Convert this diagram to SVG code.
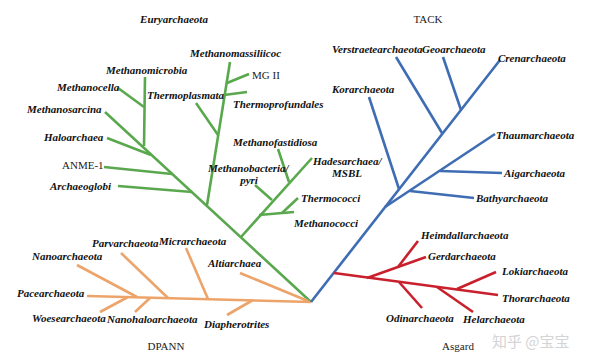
<svg xmlns="http://www.w3.org/2000/svg" width="600" height="364" viewBox="0 0 600 364">
<style>
.t{font-family:"Liberation Serif","Times New Roman",serif;font-size:11px;font-style:italic;font-weight:bold;fill:#111}
.r{font-family:"Liberation Serif","Times New Roman",serif;font-size:11px;fill:#222}
.c{stroke-width:2.6;fill:none;stroke-linecap:butt}
.g{stroke:#5aa84e}
.o{stroke:#eda46a}
.b{stroke:#3f6db3}
.d{stroke:#c8202c}
.w{font-family:"Noto Sans CJK SC","Noto Sans",sans-serif;font-size:15px;fill:#d4d4d4}
</style>
<rect width="600" height="364" fill="#fff"/>
<g id="connectors">
<g class="c g">
<path d="M311,302 L105,112"/>
<path d="M144,146 L145,77"/>
<path d="M118,88 L144,107"/>
<path d="M107,138 L151,155"/>
<path d="M104,167 L172,174"/>
<path d="M118,186 L192,192"/>
<path d="M207,205 L230,62"/>
<path d="M227,83 L249,74"/>
<path d="M224,95 L247,92"/>
<path d="M196,103 L218,135"/>
<path d="M241,237 L312,158"/>
<path d="M278,149 L289,182"/>
<path d="M255,185 L272,200"/>
<path d="M259,215 L294,212"/>
<path d="M282,213 L298,198"/>
</g>
<g class="c o">
<path d="M311,302 L87,296"/>
<path d="M77,265 L137,297"/>
<path d="M121,253 L168,298"/>
<path d="M186,248 L208,299"/>
<path d="M240,273 L308,301"/>
<path d="M100,312 L128,297"/>
<path d="M135,312 L150,298"/>
<path d="M227,315 L253,300"/>
</g>
<g class="c b">
<path d="M311,302 L500,60"/>
<path d="M369,97 L399,189"/>
<path d="M396,57 L442,133"/>
<path d="M443,57 L461,110"/>
<path d="M385,207 L495,134"/>
<path d="M440,171 L502,173"/>
<path d="M410,191 L474,198"/>
</g>
<g class="c d">
<path d="M334,273 L498,295"/>
<path d="M367,278 L426,257"/>
<path d="M398,267 L418,241"/>
<path d="M399,282 L422,308"/>
<path d="M437,287 L473,312"/>
<path d="M457,289 L496,272"/>
</g>
</g>
<g id="n-euryarchaeota"><text class="t" x="174" y="23" text-anchor="middle">Euryarchaeota</text></g>
<g id="n-tack"><text class="r" x="428" y="23" text-anchor="middle">TACK</text></g>
<g id="n-dpann"><text class="r" x="166" y="350" text-anchor="middle">DPANN</text></g>
<g id="n-asgard"><text class="r" x="458" y="350" text-anchor="middle">Asgard</text></g>
<g id="n-methanomassiliicoc"><text class="t" x="190" y="57">Methanomassiliicoc</text></g>
<g id="n-methanomicrobia"><text class="t" x="106" y="74">Methanomicrobia</text></g>
<g id="n-mg2"><text class="r" x="252" y="79">MG II</text></g>
<g id="n-methanocella"><text class="t" x="57" y="91">Methanocella</text></g>
<g id="n-thermoplasmata"><text class="t" x="147" y="99">Thermoplasmata</text></g>
<g id="n-thermoprofundales"><text class="t" x="233" y="108">Thermoprofundales</text></g>
<g id="n-methanosarcina"><text class="t" x="27" y="113">Methanosarcina</text></g>
<g id="n-haloarchaea"><text class="t" x="44" y="141">Haloarchaea</text></g>
<g id="n-anme1"><text class="r" x="62" y="169">ANME-1</text></g>
<g id="n-archaeoglobi"><text class="t" x="50" y="190">Archaeoglobi</text></g>
<g id="n-methanofastidiosa"><text class="t" x="233" y="146">Methanofastidiosa</text></g>
<g id="n-methanobacteria"><text class="t" x="208" y="172">Methanobacteria/</text><text class="t" x="249" y="184" text-anchor="middle">pyri</text></g>
<g id="n-hadesarchaea"><text class="t" x="313" y="165">Hadesarchaea/</text><text class="t" x="347" y="177" text-anchor="middle">MSBL</text></g>
<g id="n-thermococci"><text class="t" x="301" y="202">Thermococci</text></g>
<g id="n-methanococci"><text class="t" x="294" y="227">Methanococci</text></g>
<g id="n-parvarchaeota"><text class="t" x="92" y="247">Parvarchaeota</text></g>
<g id="n-micrarchaeota"><text class="t" x="159" y="245">Micrarchaeota</text></g>
<g id="n-nanoarchaeota"><text class="t" x="32" y="260">Nanoarchaeota</text></g>
<g id="n-altiarchaea"><text class="t" x="208" y="267">Altiarchaea</text></g>
<g id="n-pacearchaeota"><text class="t" x="17" y="297">Pacearchaeota</text></g>
<g id="n-woesearchaeota"><text class="t" x="32" y="322">Woesearchaeota</text></g>
<g id="n-nanohaloarchaeota"><text class="t" x="107" y="323">Nanohaloarchaeota</text></g>
<g id="n-diapherotrites"><text class="t" x="204" y="328">Diapherotrites</text></g>
<g id="n-verstraetearchaeota"><text class="t" x="332" y="53">Verstraetearchaeota</text></g>
<g id="n-geoarchaeota"><text class="t" x="422" y="53">Geoarchaeota</text></g>
<g id="n-crenarchaeota"><text class="t" x="498" y="62">Crenarchaeota</text></g>
<g id="n-korarchaeota"><text class="t" x="332" y="93">Korarchaeota</text></g>
<g id="n-thaumarchaeota"><text class="t" x="496" y="139">Thaumarchaeota</text></g>
<g id="n-aigarchaeota"><text class="t" x="504" y="177">Aigarchaeota</text></g>
<g id="n-bathyarchaeota"><text class="t" x="476" y="202">Bathyarchaeota</text></g>
<g id="n-heimdallarchaeota"><text class="t" x="421" y="239">Heimdallarchaeota</text></g>
<g id="n-gerdarchaeota"><text class="t" x="428" y="260">Gerdarchaeota</text></g>
<g id="n-lokiarchaeota"><text class="t" x="502" y="275">Lokiarchaeota</text></g>
<g id="n-thorarchaeota"><text class="t" x="502" y="302">Thorarchaeota</text></g>
<g id="n-odinarchaeota"><text class="t" x="386" y="322">Odinarchaeota</text></g>
<g id="n-helarchaeota"><text class="t" x="463" y="323">Helarchaeota</text></g>
<g id="watermark"><text class="w" x="492" y="347">知乎 @宝宝</text></g>
</svg>
